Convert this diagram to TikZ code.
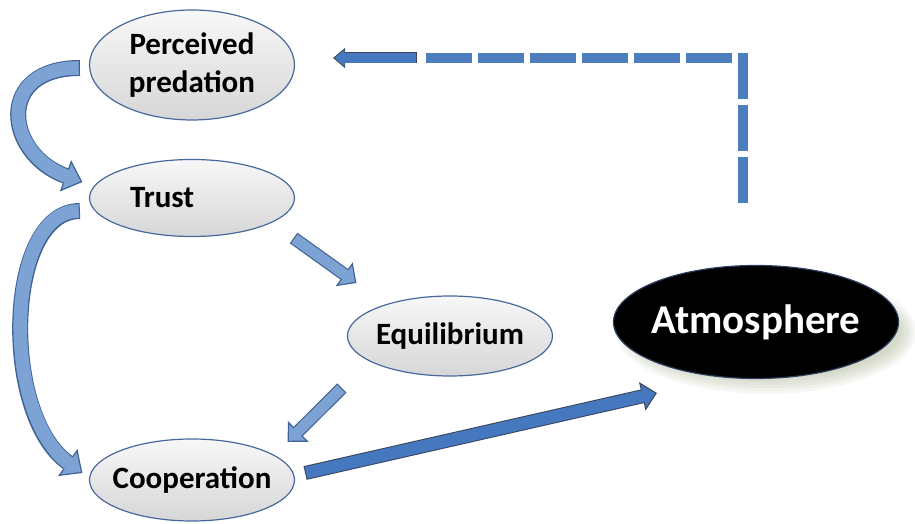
\documentclass[tikz,border=0pt]{standalone}
\usepackage{fontspec}
\setmainfont{Carlito}
\usepackage{tikz}
\usetikzlibrary{positioning, shapes.geometric, arrows.meta, backgrounds}
\definecolor{bubbleEdge}{RGB}{72,104,156}
\definecolor{arrowFill}{RGB}{124,163,212}
\definecolor{arrowEdge}{RGB}{64,98,148}
\definecolor{dotFill}{RGB}{70,120,192}
\definecolor{dotEdge}{RGB}{55,68,92}
\definecolor{dashBlue}{RGB}{76,126,190}
\definecolor{atmShadow}{RGB}{138,150,108}
\tikzset{myBubble/.style={ellipse, draw=bubbleEdge, line width=1.2pt, top color=gray!6, bottom color=gray!32, inner sep=-12pt, align=center, font=\bfseries\fontsize{31}{38}\selectfont}}
\tikzset{myAtmBubble/.style={ellipse, draw=bubbleEdge!60!black, line width=1.2pt, fill=black, text=white, inner sep=-12pt, font=\bfseries\fontsize{41}{46}\selectfont}}
\tikzset{curveArrow/.style={draw=arrowEdge, line width=16pt, -{Triangle[length=18pt, width=33pt, fill=arrowFill, line width=1.2pt]}, postaction={draw=arrowFill, line width=13.6pt, -, shorten >=16pt, shorten <=1.2pt}}}
\tikzset{straightArrow/.style={draw=arrowEdge, line width=13pt, -{Triangle[length=15pt, width=29pt, fill=arrowFill, line width=1.2pt]}, postaction={draw=arrowFill, line width=10.6pt, -, shorten >=13pt, shorten <=1.2pt}}}
\tikzset{dotArrow/.style={draw=dotEdge, line width=14pt, -{Triangle[length=15pt, width=29pt, fill=dotFill, line width=1pt]}, postaction={draw=dotFill, line width=12pt, -, shorten >=13pt, shorten <=1pt}}}
\tikzset{dotHead/.style={draw=dotEdge, line width=11pt, -{Triangle[length=12pt, width=20pt, fill=dotFill, line width=0.8pt]}, postaction={draw=dotFill, line width=9.4pt, -, shorten >=10.5pt, shorten <=0.8pt}}}
\tikzset{myDash/.style={draw=dashBlue, line width=9.5pt, dash pattern=on 46pt off 6pt}}

\begin{document}
\begin{tikzpicture}[x=1pt,y=1pt]
	\useasboundingbox (0,0) rectangle (915,524);
	%\draw[help lines, step=50](0,0) grid(915,524);
	\node[myBubble, minimum width=205pt, minimum height=110pt] (pp) at (192,459) {Perceived\\predation};
	\node[myBubble, minimum width=205pt, minimum height=77pt, text width=124pt, align=left] (trust) at (192,326) {Trust};
	\node[myBubble, minimum width=205pt, minimum height=80pt] (eq) at (450,188) {Equilibrium};
	\node[myBubble, minimum width=205pt, minimum height=82pt] (coop) at (192,44) {Cooperation};
	\node[myAtmBubble, minimum width=285pt, minimum height=113pt] (atm) at (756,202) {Atmosphere};
	
	\begin{scope}[on background layer]
		\foreach \s in {0,...,5}
			\fill[atmShadow, opacity=0.07] ([xshift=10pt, yshift=-10pt]atm.center) ellipse ({150-3*\s} and {62-3*\s});
	\end{scope}
	
	% curved arrows on the left
	\draw[curveArrow] ([xshift=-9pt, yshift=-3pt]pp.west) .. controls (-5,456) and (5,370) .. ([xshift=-6.5pt, yshift=16pt]trust.west);
	\draw[curveArrow] ([xshift=-9pt, yshift=-13pt]trust.west) .. controls (5,313) and (0,110) .. ([xshift=-6.5pt, yshift=7pt]coop.west);
	
	\draw[straightArrow] ([xshift=-1.5pt, yshift=-40pt]trust.east) -- ([xshift=9.5pt, yshift=53pt]eq.west);
	\draw[straightArrow] ([xshift=-5pt, yshift=-52pt]eq.west) -- ([xshift=-7.5pt, yshift=38pt]coop.east);
	\draw[dotArrow] ([xshift=10pt, yshift=7pt]coop.east) -- ([xshift=44pt, yshift=-71pt]atm.west);
	
	% feedback
	\coordinate (fbEnd) at ([xshift=128pt, yshift=7pt]pp.east);
	\draw[myDash] ([xshift=-13pt, yshift=62pt]atm.north) |- (fbEnd);
	\draw[dotHead] ([xshift=-6pt]fbEnd) -- ([xshift=38pt, yshift=7pt]pp.east);

\end{tikzpicture}
\end{document}
